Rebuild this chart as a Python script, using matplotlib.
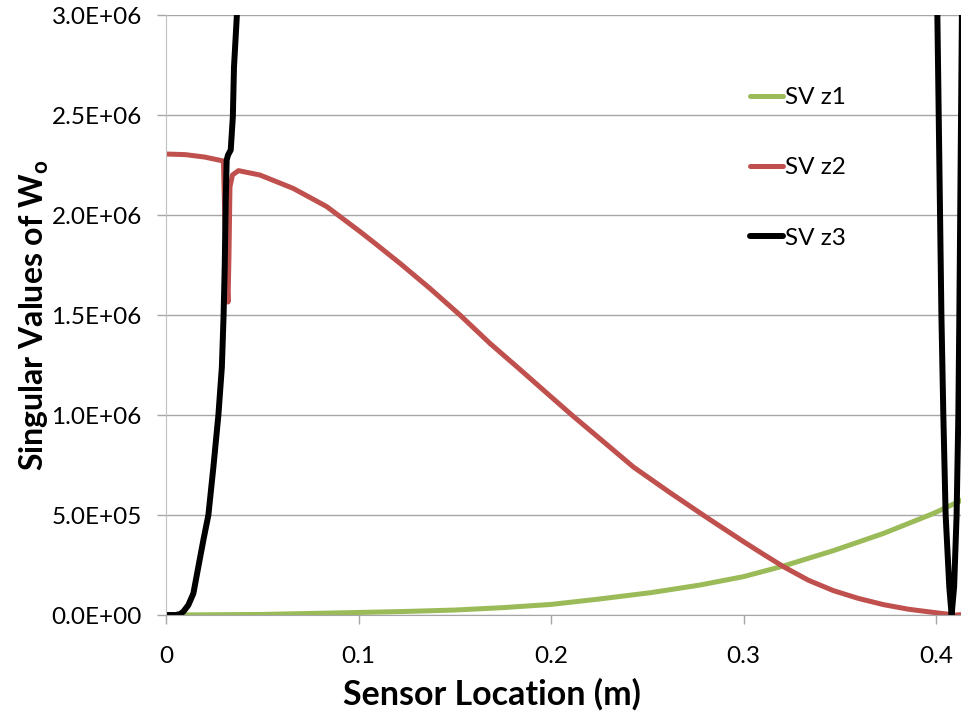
import numpy as np
import matplotlib
matplotlib.use('Agg')
import matplotlib.pyplot as plt
from matplotlib.ticker import FuncFormatter, MultipleLocator

plt.rcParams['font.family'] = ['Lato', 'DejaVu Sans']
plt.rcParams['mathtext.fontset'] = 'custom'
plt.rcParams['mathtext.rm'] = 'Lato'
plt.rcParams['mathtext.bf'] = 'Lato:bold'

# values
x_z1 = [0, 0.05, 0.0956, 0.125, 0.15, 0.175, 0.2, 0.225, 0.2519, 0.2774, 0.3, 0.3207, 0.3467,
        0.3727, 0.3987, 0.4135]
sv_z1 = [0, 3e3, 1.2e4, 1.8e4, 2.5e4, 3.7e4, 5.3e4, 8.0e4, 1.12e5, 1.5e5, 1.92e5, 2.45e5, 3.22e5,
         4.08e5, 5.08e5, 5.75e5]

x_z2 = [0, 0.01, 0.02, 0.0298, 0.0305, 0.0315, 0.0322, 0.0327, 0.0332, 0.0345, 0.0376,
        0.0488, 0.0661, 0.0835, 0.1008, 0.1086, 0.1216, 0.1371, 0.1527, 0.1683, 0.1822, 0.196,
        0.2108, 0.2272, 0.2428, 0.2618, 0.279, 0.2878, 0.3, 0.3103, 0.3207, 0.3337, 0.3467,
        0.3597, 0.3727, 0.3857, 0.3987, 0.4065, 0.41, 0.4135]
sv_z2 = [2.305e6, 2.302e6, 2.29e6, 2.27e6, 2.0e6, 1.7e6, 1.565e6, 1.8e6, 2.14e6, 2.2e6, 2.222e6,
         2.2e6, 2.133e6, 2.042e6, 1.917e6, 1.858e6, 1.758e6, 1.633e6, 1.5e6, 1.358e6, 1.242e6, 1.125e6,
         1.0e6, 8.67e5, 7.4e5, 6.12e5, 5.0e5, 4.44e5, 3.67e5, 3.04e5, 2.42e5, 1.74e5, 1.22e5,
         8.3e4, 5.2e4, 2.9e4, 1.3e4, 4e3, 0, 2e3]

# z3 leaves the top of the chart between the two branches
x_z3 = [0, 0.005, 0.0073, 0.009, 0.0116, 0.0142, 0.0168, 0.0194, 0.022, 0.0246, 0.0272, 0.029,
        0.0299, 0.0305, 0.031, 0.0315, 0.0322, 0.0336, 0.0347, 0.0353, 0.0368, 0.038, np.nan,
        0.4001, 0.4007, 0.4014, 0.4021, 0.4028, 0.4038, 0.405, 0.4069, 0.4081, 0.4094, 0.4107,
        0.4116, 0.4121, 0.4133, 0.4136]
sv_z3 = [0, 0, 5e3, 1.7e4, 5e4, 1.08e5, 2.42e5, 3.75e5, 5e5, 7.4e5, 1e6, 1.24e6,
         1.5e6, 1.75e6, 2.075e6, 2.275e6, 2.3e6, 2.325e6, 2.49e6, 2.74e6, 3.0e6, 3.4e6, np.nan,
         3.4e6, 3.0e6, 2.5e6, 2.0e6, 1.5e6, 1.0e6, 5e5, 1.4e5, 0, 1.4e5, 5e5,
         1e6, 1.475e6, 2.825e6, 3.2e6]

series = [
    ('SV z1', x_z1, sv_z1, '#9BBB59', 3.6),
    ('SV z2', x_z2, sv_z2, '#C0504D', 3.6),
    ('SV z3', x_z3, sv_z3, '#000000', 4.3),
]

fig = plt.figure(figsize=(9.62, 7.19), dpi=100)
ax = fig.add_axes([0.1726, 0.1446, 0.8274, 0.8345])

for name, xs, ys, col, lw in series:
    ax.plot(xs, ys, color=col, lw=lw, label=name, solid_capstyle='round', solid_joinstyle='round')

ax.set_xlim(0, 0.4135)
ax.set_ylim(0, 3.0e6)
ax.yaxis.set_major_locator(MultipleLocator(5e5))
ax.xaxis.set_major_locator(MultipleLocator(0.1))
ax.yaxis.set_major_formatter(FuncFormatter(lambda v, p: '%.1E' % v))
ax.xaxis.set_major_formatter(FuncFormatter(lambda v, p: '0' if v == 0 else '%g' % v))

ax.grid(axis='y', color='#a6a6a6', lw=1)
ax.set_axisbelow(True)
for s in ['top', 'right']:
    ax.spines[s].set_visible(False)
ax.spines['left'].set_color('#c0c0c0')
ax.spines['bottom'].set_color('#a6a6a6')
ax.tick_params(axis='both', labelsize=17.5, length=6.5, width=1, color='#a6a6a6')
ax.tick_params(axis='y', pad=11)
ax.tick_params(axis='x', pad=16)

ax.set_xlabel('Sensor Location (m)', fontsize=24.5, fontweight='bold')
ax.xaxis.set_label_coords((492 - 166) / 796, -0.105)
ax.set_ylabel(r'Singular Values of W$_\mathbf{o}$', fontsize=23, fontweight='bold', labelpad=0)

ax.legend(loc='upper left', bbox_to_anchor=(750 / 962, 1 - 87 / 719), bbox_transform=fig.transFigure,
          frameon=False, fontsize=17.5, handlelength=1.36, handletextpad=0.1, labelspacing=2.03,
          borderaxespad=0, borderpad=0)

fig.savefig('out.png', dpi=100)
